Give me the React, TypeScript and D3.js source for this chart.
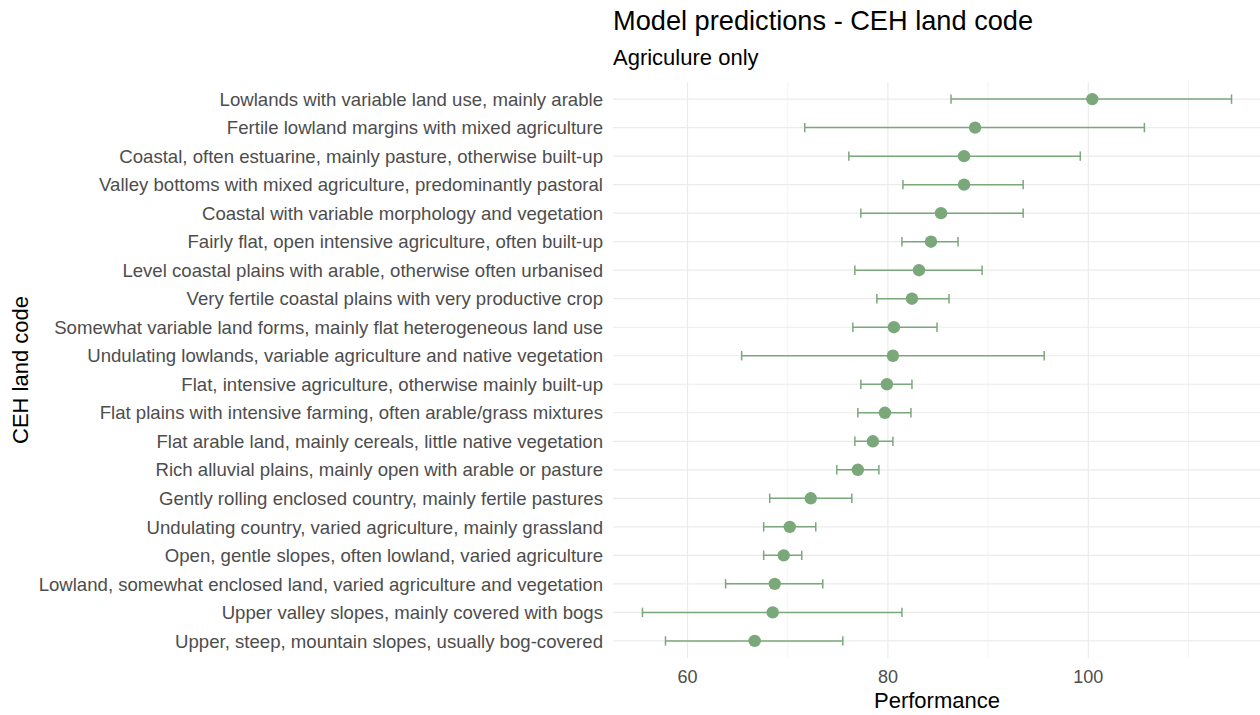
import React from "react";
import * as d3 from "d3";

// CEH land codes, top row first
const landCodes = [
  "Lowlands with variable land use, mainly arable",
  "Fertile lowland margins with mixed agriculture",
  "Coastal, often estuarine, mainly pasture, otherwise built-up",
  "Valley bottoms with mixed agriculture, predominantly pastoral",
  "Coastal with variable morphology and vegetation",
  "Fairly flat, open intensive agriculture, often built-up",
  "Level coastal plains with arable, otherwise often urbanised",
  "Very fertile coastal plains with very productive crop",
  "Somewhat variable land forms, mainly flat heterogeneous land use",
  "Undulating lowlands, variable agriculture and native vegetation",
  "Flat, intensive agriculture, otherwise mainly built-up",
  "Flat plains with intensive farming, often arable/grass mixtures",
  "Flat arable land, mainly cereals, little native vegetation",
  "Rich alluvial plains, mainly open with arable or pasture",
  "Gently rolling enclosed country, mainly fertile pastures",
  "Undulating country, varied agriculture, mainly grassland",
  "Open, gentle slopes, often lowland, varied agriculture",
  "Lowland, somewhat enclosed land, varied agriculture and vegetation",
  "Upper valley slopes, mainly covered with bogs",
  "Upper, steep, mountain slopes, usually bog-covered",
];

const performance = [100.4, 88.7, 87.6, 87.6, 85.3, 84.3, 83.1, 82.4, 80.6, 80.5, 79.9, 79.7, 78.5, 77.0, 72.3, 70.2, 69.6, 68.7, 68.5, 66.7];
const lowerCI = [86.3, 71.7, 76.1, 81.5, 77.3, 81.4, 76.7, 78.9, 76.5, 65.4, 77.3, 77.0, 76.7, 74.9, 68.2, 67.6, 67.6, 63.8, 55.5, 57.8];
const upperCI = [114.3, 105.6, 99.2, 93.5, 93.5, 87.0, 89.4, 86.1, 84.9, 95.6, 82.4, 82.3, 80.5, 79.1, 76.4, 72.8, 71.4, 73.5, 81.4, 75.5];

const majorTicks = [60, 80, 100];
const minorTicks = [70, 90, 110];

const width = 1260;
const height = 715;
const panel = { left: 613, right: 1261, top: 82, bottom: 658 };
const pointColor = "#7ba87b";
const gridColor = "#ebebeb";
const font = "'Liberation Sans', Arial, sans-serif";

export default function App() {
  // ggplot style 5% expansion on the continuous axis
  const lo = d3.min(lowerCI) as number;
  const hi = d3.max(upperCI) as number;
  const pad = (hi - lo) * 0.05;

  const x = d3.scaleLinear().domain([lo - pad, hi + pad]).range([panel.left, panel.right]);
  const y = d3.scalePoint<string>().domain(landCodes).range([panel.top, panel.bottom]).padding(0.6);

  const rows = landCodes.map((name, i) => ({
    name,
    est: performance[i],
    lo: lowerCI[i],
    hi: upperCI[i],
  }));

  return (
    <svg
      width={width}
      height={height}
      style={{ position: "absolute", left: 0, top: 0, background: "#fff" }}
      fontFamily={font}
    >
      {/* grid */}
      {minorTicks.map((t) => (
        <line key={"mn" + t} x1={x(t)} x2={x(t)} y1={panel.top} y2={panel.bottom} stroke={gridColor} strokeWidth={0.6} />
      ))}
      {majorTicks.map((t) => (
        <line key={"mj" + t} x1={x(t)} x2={x(t)} y1={panel.top} y2={panel.bottom} stroke={gridColor} strokeWidth={1.2} />
      ))}
      {landCodes.map((c) => (
        <line key={"h" + c} x1={panel.left} x2={panel.right} y1={y(c)} y2={y(c)} stroke={gridColor} strokeWidth={1.2} />
      ))}

      {/* error bars + points */}
      {rows.map((d) => {
        const cy = y(d.name) as number;
        return (
          <g key={d.name} stroke={pointColor} strokeWidth={1.5}>
            <line x1={x(d.lo)} x2={x(d.hi)} y1={cy} y2={cy} />
            <line x1={x(d.lo)} x2={x(d.lo)} y1={cy - 4.7} y2={cy + 4.7} />
            <line x1={x(d.hi)} x2={x(d.hi)} y1={cy - 4.7} y2={cy + 4.7} />
            <circle cx={x(d.est)} cy={cy} r={6.2} fill={pointColor} stroke="none" />
          </g>
        );
      })}

      {/* y labels */}
      {landCodes.map((c) => (
        <text key={"l" + c} x={603} y={y(c)} dy="0.36em" textAnchor="end" fontSize={18.6} fill="#4d4d4d">
          {c}
        </text>
      ))}

      {/* x tick labels */}
      {majorTicks.map((t) => (
        <text key={"t" + t} x={x(t)} y={683} textAnchor="middle" fontSize={18} fill="#4d4d4d">
          {t}
        </text>
      ))}

      {/* titles */}
      <text x={613} y={30} fontSize={27.2} fill="#000">Model predictions - CEH land code</text>
      <text x={613} y={65} fontSize={22} fill="#000">Agriculure only</text>
      <text x={(panel.left + panel.right) / 2} y={708} textAnchor="middle" fontSize={22} fill="#000">
        Performance
      </text>
      <text
        transform={`translate(28,${(panel.top + panel.bottom) / 2}) rotate(-90)`}
        textAnchor="middle"
        fontSize={22}
        fill="#000"
      >
        CEH land code
      </text>
    </svg>
  );
}
